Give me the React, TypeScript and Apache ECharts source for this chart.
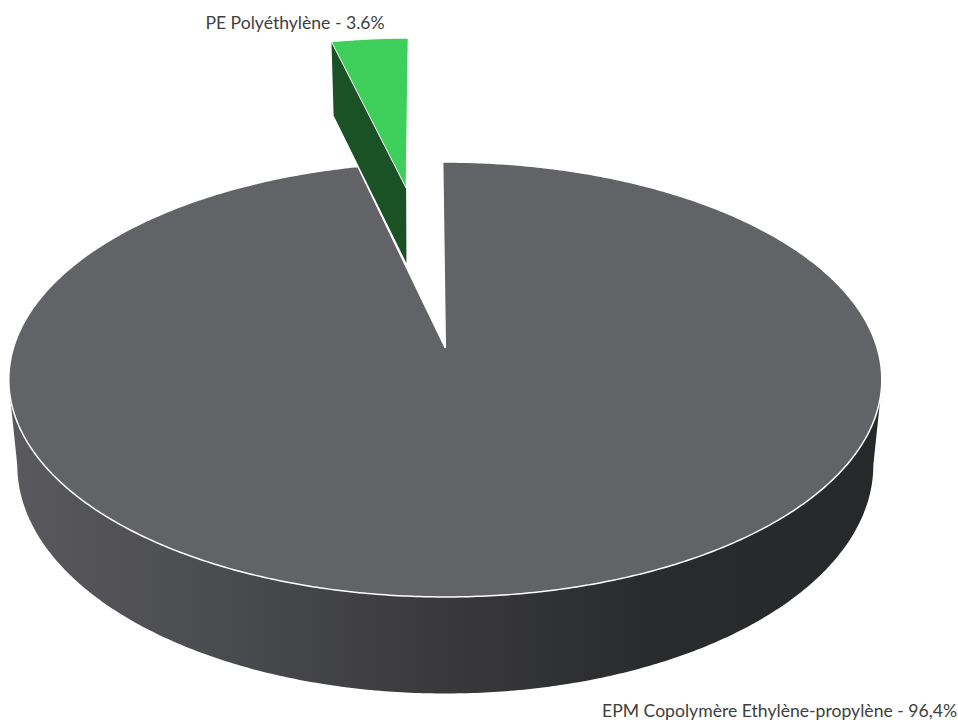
import React, { useEffect, useRef } from "react";
import * as echarts from "echarts";

const categories = ["EPM Copolymère Ethylène-propylène", "PE Polyéthylène"];
const values = [96.4, 3.6];
const labels = ["EPM Copolymère Ethylène-propylène - 96,4%", "PE Polyéthylène - 3.6%"];
const explodes = [0, 0.85];
const topColors = ["#626367", "#3ecf5a"];
const wallColors = ["#3b3b3e", "#1a5226"];

// perspective planes of the disc: top face and bottom rim
const CX = 445.3;
const START_ANGLE = -0.4;
const TOP = { y0: 348, B: 212.9, A: 431.9, k: 0.1448 };
const BOTTOM = { y0: 428.6, B: 222.5, A: 422.5, k: 0.16 };
const BOTTOM_EXPLODED = { ...BOTTOM, A: 433 };
type Plane = typeof TOP;
type Pt = [number, number];

const DEG = Math.PI / 180;
function project(X: number, Y: number, p: Plane): Pt {
  const w = 1 + p.k * Y;
  return [CX + (p.A * X) / w, p.y0 - (p.B * Y) / w];
}
function arc(a0: number, a1: number, ox: number, oy: number, p: Plane): Pt[] {
  const n = Math.max(2, Math.ceil(Math.abs(a1 - a0) * 2));
  const pts: Pt[] = [];
  for (let i = 0; i <= n; i++) {
    const a = (a0 + ((a1 - a0) * i) / n) * DEG;
    pts.push(project(ox + Math.sin(a), oy + Math.cos(a), p));
  }
  return pts;
}
// angle (clockwise from far point) at which a plane's ellipse is widest
const widest = (p: Plane) => Math.acos(-p.k) / DEG;

function renderSlice(params: any, api: any) {
  const i = params.dataIndex;
  const total = values.reduce((s, v) => s + v, 0);
  const v = api.value(0);
  // the first slice starts at 12 o'clock and runs clockwise
  const before = values.slice(0, i).reduce((s, x) => s + x, 0);
  const a0 = START_ANGLE + (before / total) * 360;
  const a1 = a0 + (v / total) * 360;
  const mid = ((a0 + a1) / 2) * DEG;
  const ox = explodes[i] * Math.sin(mid);
  const oy = explodes[i] * Math.cos(mid);
  const children: any[] = [];

  if (i === 0) {
    const wt = widest(TOP);
    const wb = widest(BOTTOM);
    const wall = [
      ...arc(wt + 4, wt, 0, 0, TOP).slice(0, 1),
      ...arc(wb, 360 - wb, 0, 0, BOTTOM),
      ...arc(360 - wt - 4, 360 - wt, 0, 0, TOP).slice(0, 1),
    ];
    children.push({
      type: "polygon",
      shape: { points: wall },
      style: {
        fill: new echarts.graphic.LinearGradient(0, 0, 1, 0, [
          { offset: 0, color: "#5a595d" },
          { offset: 0.22, color: "#4c4d51" },
          { offset: 0.5, color: "#39393c" },
          { offset: 0.73, color: "#2a2b2d" },
          { offset: 1, color: "#27282a" },
        ]),
      },
    });
    children.push({
      type: "polygon",
      shape: { points: [project(ox, oy, TOP), ...arc(a0, a1, ox, oy, TOP)] },
      style: { fill: topColors[i], stroke: "#ffffff", lineWidth: 1.5 },
    });
  } else {
    const apexT = project(ox, oy, TOP);
    const apexB = project(ox, oy, BOTTOM_EXPLODED);
    const a = a0 * DEG;
    const outerT = project(ox + Math.sin(a), oy + Math.cos(a), TOP);
    const outerB = project(ox + Math.sin(a), oy + Math.cos(a), BOTTOM_EXPLODED);
    children.push({
      type: "polygon",
      shape: { points: [apexT, outerT, outerB, apexB] },
      style: { fill: wallColors[i] },
    });
    children.push({
      type: "polygon",
      shape: { points: [apexT, ...arc(a0, a1, ox, oy, TOP)] },
      style: { fill: topColors[i], stroke: "#ffffff", lineWidth: 1 },
    });
  }

  children.push({
    type: "text",
    style:
      i === 0
        ? { text: labels[i], x: 957, y: 710, textAlign: "right", textVerticalAlign: "middle", fill: "#404040", fontSize: 17.6, fontFamily: "Lato" }
        : { text: labels[i], x: 295, y: 22, textAlign: "center", textVerticalAlign: "middle", fill: "#404040", fontSize: 17.6, fontFamily: "Lato" },
  });
  return { type: "group", children };
}

export default function App() {
  const ref = useRef<HTMLDivElement>(null);
  useEffect(() => {
    document.body.style.margin = "0";
    const chart = echarts.init(ref.current!, undefined, { renderer: "svg" });
    chart.setOption({
      animation: false,
      backgroundColor: "#ffffff",
      series: [
        {
          type: "custom",
          coordinateSystem: "none",
          renderItem: renderSlice,
          data: categories.map((name, i) => ({ name, value: [values[i]] })),
        },
      ],
    });
    return () => chart.dispose();
  }, []);
  return <div ref={ref} style={{ width: 958, height: 720 }} />;
}
